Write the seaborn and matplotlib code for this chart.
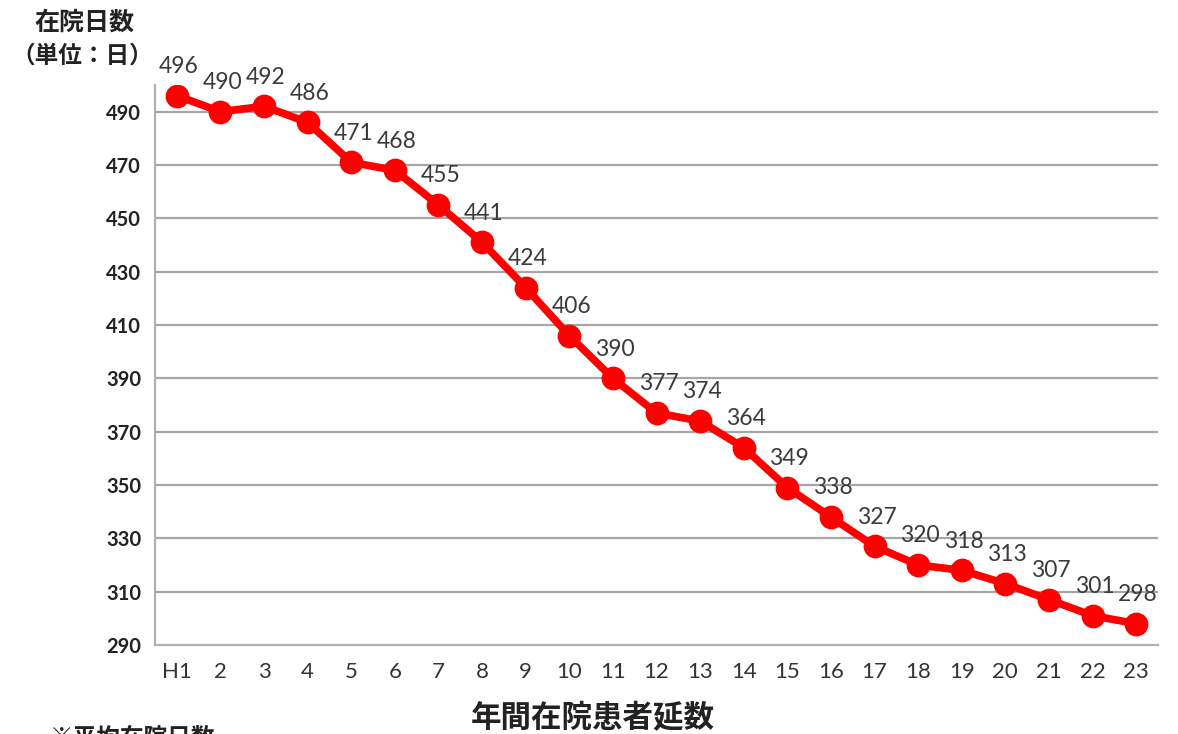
import matplotlib
matplotlib.use("Agg")
import matplotlib.pyplot as plt
import seaborn as sns
import pandas as pd

# 平成元年〜23年の在院日数（単位：日）
years = ["H1", "2", "3", "4", "5", "6", "7", "8", "9", "10", "11", "12",
         "13", "14", "15", "16", "17", "18", "19", "20", "21", "22", "23"]
days = [496, 490, 492, 486, 471, 468, 455, 441, 424, 406, 390, 377,
        374, 364, 349, 338, 327, 320, 318, 313, 307, 301, 298]
y_ticks = list(range(290, 491, 20))

sns.set_theme(style="white")
plt.rcParams["font.family"] = ["Lato", "Noto Sans CJK JP", "DejaVu Sans"]

df = pd.DataFrame({"year": years, "days": days})

fig = plt.figure(figsize=(11.78, 7.34), dpi=100)
ax = fig.add_axes([155 / 1178, 1 - 645 / 734, (1158 - 155) / 1178, (645 - 85) / 734])

sns.pointplot(data=df, x="year", y="days", order=years, color="#ff0000",
              markers="o", markersize=13, linewidth=5.5, ax=ax)

ax.set_xlim(-0.5, len(years) - 0.5)
ax.set_ylim(290, 500)
ax.set_yticks(y_ticks)
ax.set_yticklabels([str(v) for v in y_ticks], fontsize=14.5, fontweight="bold",
                   color="#222222")
ax.set_xticks(range(len(years)))
ax.set_xticklabels(years, fontsize=16, color="#333333")

# grid lines and category separators
for v in y_ticks[1:]:
    ax.axhline(v, color="#a6a6a6", linewidth=1.6, zorder=0)
ax.set_xticks([i - 0.5 for i in range(len(years) + 1)], minor=True)
ax.tick_params(axis="x", which="minor", length=6, width=1.3, color="#a6a6a6",
               direction="out")
ax.tick_params(axis="x", which="major", length=0, pad=12)
ax.tick_params(axis="y", which="major", length=7, width=1.3, color="#a6a6a6",
               direction="out", pad=3)

for side in ["top", "right"]:
    ax.spines[side].set_visible(False)
for side in ["left", "bottom"]:
    ax.spines[side].set_color("#b0b0b0")
    ax.spines[side].set_linewidth(1.6)

ax.set_xlabel("")
ax.set_ylabel("")

# value labels above each point
for i, v in enumerate(days):
    ax.annotate(str(v), (i, v), xytext=(2, 29), textcoords="offset pixels",
                ha="center", va="center", fontsize=16.5, color="#3a3a3a")

fig.text(84 / 1178, 1 - 22 / 734, "在院日数", ha="center", va="center",
         fontsize=18, fontweight="bold", color="#222222")
fig.text(82 / 1178, 1 - 55 / 734, "（単位：日）", ha="center", va="center",
         fontsize=17, fontweight="bold", color="#222222")
fig.text(593 / 1178, 1 - 717 / 734, "年間在院患者延数", ha="center", va="center",
         fontsize=22, fontweight="bold", color="#222222")
fig.text(50 / 1178, 1 - 726 / 734, "※平均在院日数", ha="left", va="top",
         fontsize=17, fontweight="bold", color="#222222")

fig.savefig("out.png", dpi=100)
